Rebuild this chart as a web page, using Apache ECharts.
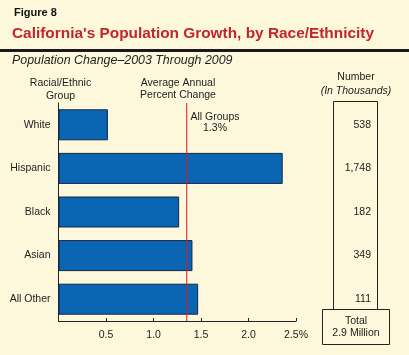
<!DOCTYPE html>
<html><head><meta charset="utf-8">
<script src="https://cdn.jsdelivr.net/npm/echarts@6/dist/echarts.min.js"></script>
<style>html,body{margin:0;padding:0;background:#fdf8db}#c{width:409px;height:355px}</style>
</head><body><div id="c"></div>
<script>
const categories = ['White', 'Hispanic', 'Black', 'Asian', 'All Other'];
const pctChange = [0.52, 2.36, 1.27, 1.41, 1.47];
const numbersThousands = ['538', '1,748', '182', '349', '111'];
const averageAll = 1.35;
const averageLabel = '1.3%';
const xTicks = [0.5, 1.0, 1.5, 2.0, 2.5];

const font = 'Liberation Sans, Arial, sans-serif';
const fs = 10.5;
const chart = echarts.init(document.getElementById('c'));
chart.setOption({
  backgroundColor: '#fdf8db',
  animation: false,
  textStyle: { fontFamily: font },
  grid: { left: 58.5, right: 113, top: 103, bottom: 34 },
  xAxis: {
    type: 'value', min: 0, max: 2.5, interval: 0.5,
    axisLine: { show: true, lineStyle: { color: '#222', width: 1 } },
    axisTick: { show: true, inside: true, length: 3, lineStyle: { color: '#222' } },
    splitLine: { show: false },
    axisLabel: {
      color: '#222', fontSize: fs, margin: 9, fontFamily: font,
      formatter: v => v === 0 ? '' : (v === 2.5 ? v.toFixed(1) + '%' : v.toFixed(1))
    }
  },
  yAxis: [{
    type: 'category', data: categories, inverse: true,
    axisLine: { show: true, lineStyle: { color: '#222' } },
    axisTick: { show: false },
    axisLabel: { color: '#222', fontSize: fs, margin: 8, fontFamily: font }
  }, {
    type: 'category', data: categories, inverse: true, position: 'right',
    axisLine: { show: false }, axisTick: { show: false },
    axisLabel: {
      color: '#222', fontSize: fs, align: 'right', margin: 75, fontFamily: font,
      formatter: (v, i) => numbersThousands[i]
    }
  }, {
    type: 'value', min: 0, max: 1, show: false
  }],
  series: [{
    type: 'bar', data: pctChange, barWidth: 31, z: 2,
    itemStyle: { color: '#0a66b3', borderColor: '#15244a', borderWidth: 1 }
  }, {
    type: 'line', yAxisIndex: 2, z: 10, silent: true, symbol: 'none',
    data: [[averageAll, 0], [averageAll, 1]],
    lineStyle: { color: '#e3141e', width: 1 },
    itemStyle: { color: '#e3141e' }
  }],
  graphic: [
    { type: 'text', left: 14, top: 7, style: { text: 'Figure 8', font: 'bold 11px ' + font, fill: '#111' } },
    { type: 'text', left: 12, top: 26, style: { text: "California's Population Growth, by Race/Ethnicity", font: 'bold 15.4px ' + font, fill: '#c0262c' } },
    { type: 'rect', shape: { x: 0, y: 49, width: 409, height: 3 }, style: { fill: '#1a1a1a' } },
    { type: 'text', left: 12, top: 55, style: { text: 'Population Change\u20132003 Through 2009', font: 'italic 12.4px ' + font, fill: '#222' } },
    { type: 'text', x: 60.5, y: 77, style: { text: 'Racial/Ethnic\nGroup', font: fs + 'px ' + font, fill: '#222', align: 'center', lineHeight: 13 } },
    { type: 'text', x: 178, y: 77.5, style: { text: 'Average Annual\nPercent Change', font: fs + 'px ' + font, fill: '#222', align: 'center', lineHeight: 11.5 } },
    { type: 'text', x: 215, y: 111.5, style: { text: 'All Groups\n' + averageLabel, font: fs + 'px ' + font, fill: '#222', align: 'center', lineHeight: 11 } },
    { type: 'text', x: 356, y: 72, style: { text: 'Number', font: fs + 'px ' + font, fill: '#222', align: 'center' } },
    { type: 'text', x: 356, y: 86, style: { text: '(In Thousands)', font: 'italic ' + fs + 'px ' + font, fill: '#222', align: 'center' } },
    { type: 'polyline', shape: { points: [[333.5, 309.5], [333.5, 101.5], [377.5, 101.5], [377.5, 309.5]] }, style: { stroke: '#222', fill: null, lineWidth: 1 } },
    { type: 'rect', shape: { x: 322.5, y: 309.5, width: 67, height: 35 }, style: { stroke: '#222', fill: '#fdf8db', lineWidth: 1 } },
    { type: 'text', x: 356, y: 314.5, style: { text: 'Total\n2.9 Million', font: fs + 'px ' + font, fill: '#222', align: 'center', lineHeight: 12.5 } }
  ]
});
</script></body></html>
